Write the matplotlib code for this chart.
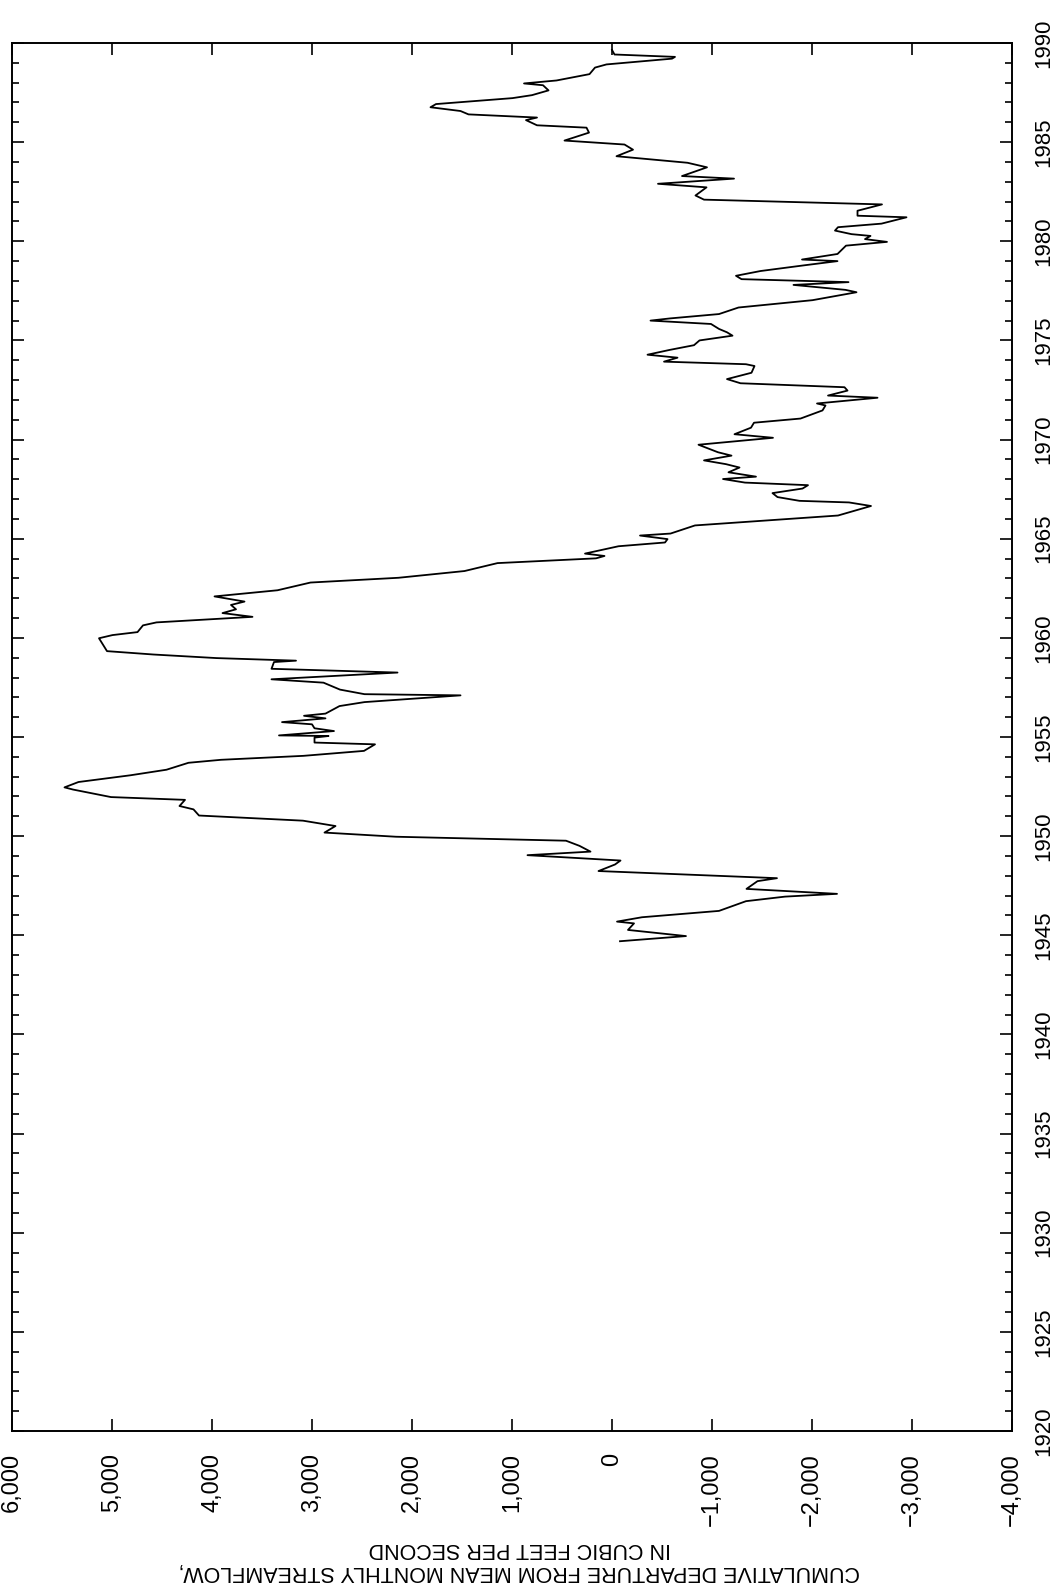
import matplotlib.pyplot as plt
from matplotlib.ticker import MultipleLocator

plt.rcParams['font.family'] = ['Liberation Sans', 'DejaVu Sans']

# cumulative departure from mean monthly streamflow
years = [1944.70, 1944.96, 1945.27, 1945.60, 1945.69, 1945.91, 1946.23, 1946.72,
         1946.95, 1947.09, 1947.34, 1947.73, 1947.88, 1948.24, 1948.57, 1948.77,
         1949.04, 1949.22, 1949.51, 1949.77, 1949.97, 1950.18, 1950.51, 1950.78,
         1951.04, 1951.35, 1951.52, 1951.83, 1951.97, 1952.35, 1952.46, 1952.73,
         1953.07, 1953.35, 1953.70, 1953.85, 1954.05, 1954.30, 1954.63, 1954.72,
         1954.97, 1955.05, 1955.08, 1955.30, 1955.44, 1955.64, 1955.75, 1955.94,
         1956.07, 1956.18, 1956.56, 1956.76, 1957.10, 1957.16, 1957.39, 1957.74,
         1957.91, 1958.25, 1958.44, 1958.78, 1958.85, 1958.98, 1959.16, 1959.33,
         1959.98, 1960.14, 1960.29, 1960.63, 1960.78, 1961.06, 1961.25, 1961.44,
         1961.66, 1961.83, 1962.09, 1962.40, 1962.79, 1963.03, 1963.37, 1963.77,
         1964.01, 1964.13, 1964.25, 1964.62, 1964.81, 1964.98, 1965.16, 1965.26,
         1965.67, 1966.17, 1966.65, 1966.83, 1966.91, 1967.10, 1967.30, 1967.53,
         1967.70, 1967.83, 1968.01, 1968.13, 1968.35, 1968.59, 1968.76, 1968.95,
         1969.19, 1969.36, 1969.74, 1970.09, 1970.27, 1970.60, 1970.85, 1971.06,
         1971.47, 1971.72, 1971.82, 1972.11, 1972.22, 1972.47, 1972.64, 1972.84,
         1973.05, 1973.37, 1973.71, 1973.80, 1973.93, 1974.13, 1974.28, 1974.52,
         1974.76, 1975.00, 1975.24, 1975.41, 1975.58, 1975.83, 1976.00, 1976.11,
         1976.33, 1976.66, 1977.03, 1977.43, 1977.55, 1977.80, 1977.94, 1978.09,
         1978.26, 1978.50, 1978.79, 1979.00, 1979.08, 1979.36, 1979.78, 1979.97,
         1980.11, 1980.27, 1980.36, 1980.54, 1980.71, 1980.89, 1981.21, 1981.29,
         1981.54, 1981.86, 1982.10, 1982.31, 1982.72, 1982.90, 1983.16, 1983.29,
         1983.73, 1983.96, 1984.29, 1984.62, 1984.88, 1985.08, 1985.48, 1985.73,
         1985.85, 1986.11, 1986.24, 1986.40, 1986.57, 1986.76, 1986.92, 1987.22,
         1987.37, 1987.61, 1987.87, 1987.96, 1988.11, 1988.43, 1988.76, 1988.92,
         1989.21, 1989.30, 1989.42, 1989.65]
departure = [-80, -740, -160, -220, -50, -300, -1070, -1340,
             -1730, -2250, -1345, -1455, -1650, 135, -30, -85,
             845, 215, 325, 460, 2160, 2875, 2765, 3090,
             4130, 4185, 4325, 4270, 5010, 5390, 5475, 5335,
             4815, 4455, 4235, 3910, 3085, 2480, 2370, 2975,
             2975, 2835, 3330, 2780, 2975, 3000, 3300, 2865,
             3080, 2865, 2725, 2475, 1515, 2475, 2720, 2885,
             3405, 2145, 3405, 3380, 3160, 3955, 4585, 5050,
             5130, 4995, 4745, 4690, 4555, 3595, 3895, 3760,
             3810, 3675, 3975, 3345, 3015, 2135, 1475, 1145,
             160, 75, 270, -65, -530, -555, -280, -585,
             -830, -2260, -2590, -2370, -1875, -1655, -1605, -1905,
             -1960, -1330, -1110, -1440, -1165, -1275, -1140, -920,
             -1195, -1060, -865, -1610, -1225, -1390, -1420, -1885,
             -2105, -2135, -2050, -2655, -2160, -2355, -2325, -1285,
             -1150, -1395, -1425, -1340, -520, -655, -355, -575,
             -820, -875, -1205, -1150, -1070, -990, -385, -580,
             -1070, -1265, -2005, -2445, -2335, -1815, -2365, -1295,
             -1240, -1485, -1925, -2255, -1900, -2255, -2340, -2750,
             -2530, -2585, -2395, -2230, -2260, -2695, -2945, -2455,
             -2455, -2700, -920, -835, -945, -460, -1220, -700,
             -950, -755, -45, -210, -125, 475, 230, 255,
             750, 860, 750, 1435, 1515, 1815, 1760, 995,
             800, 635, 690, 880, 555, 225, 170, 55,
             -600, -630, -25, 0]

value_ticks = [6000, 5000, 4000, 3000, 2000, 1000, 0, -1000, -2000, -3000, -4000]
value_labels = ['6,000', '5,000', '4,000', '3,000', '2,000', '1,000', '0',
                '\u22121,000', '\u22122,000', '\u22123,000', '\u22124,000']
year_ticks = [1920, 1925, 1930, 1935, 1940, 1945, 1950, 1955,
              1960, 1965, 1970, 1975, 1980, 1985, 1990]

fig = plt.figure(figsize=(10.63, 15.93), dpi=100)
ax = fig.add_axes([12 / 1063, 1 - 1431 / 1593, 1000 / 1063, 1388 / 1593])

ax.plot(departure, years, color='black', lw=1.3)

ax.set_xlim(6000, -4000)
ax.set_ylim(1920, 1990)
ax.set_xticks(value_ticks)
ax.set_xticklabels(value_labels, rotation=90)
ax.set_yticks(year_ticks)
ax.set_yticklabels([str(y) for y in year_ticks], rotation=90, va='center')
ax.yaxis.set_minor_locator(MultipleLocator(1))

ax.tick_params(axis='x', direction='in', top=True, bottom=True, length=8.5,
               width=1.2, labelsize=17, pad=16)
ax.tick_params(axis='y', which='both', direction='in', left=True, right=True,
               labelleft=False, labelright=True, width=1.2)
ax.tick_params(axis='y', which='major', length=8.5, labelsize=16, pad=15)
ax.tick_params(axis='y', which='minor', length=5)

for s in ax.spines.values():
    s.set_linewidth(1.4)

fig.text(0.489, 1 - 1560 / 1593,
         'CUMULATIVE DEPARTURE FROM MEAN MONTHLY STREAMFLOW,\nIN CUBIC FEET PER SECOND',
         rotation=180, ha='center', va='center', fontsize=15.5,
         multialignment='center', linespacing=1.1)

fig.savefig('out.png', dpi=100)
